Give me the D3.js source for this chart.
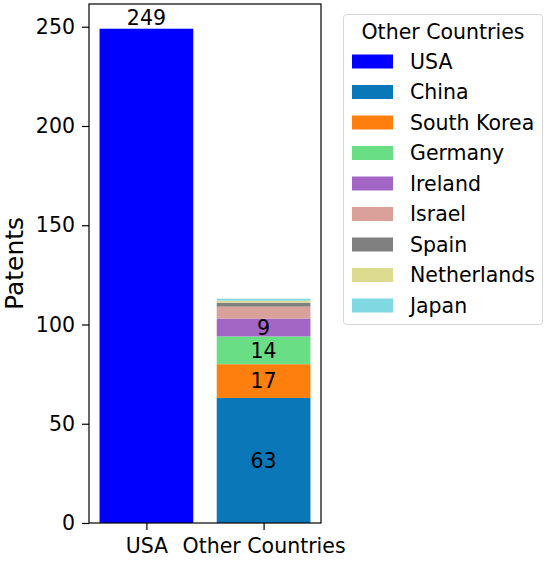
<!DOCTYPE html>
<html><head><meta charset="utf-8">
<script src="https://cdn.jsdelivr.net/npm/d3@7"></script>
<style>body{margin:0;background:#fff;}svg{display:block;font-family:"DejaVu Sans",sans-serif;}</style>
</head><body><svg id="c" width="550" height="562"></svg>
<script>
const categories = ["USA", "Other Countries"];
const usaValue = [249];
const countries = ["China","South Korea","Germany","Ireland","Israel","Spain","Netherlands","Japan"];
const countryValues = [63, 17, 14, 9, 6, 2, 1, 1];
const legendNames = ["USA","China","South Korea","Germany","Ireland","Israel","Spain","Netherlands","Japan"];
const legendColors = ["#0000ff","#0a77b8","#ff7f0e","#6ade85","#a466c4","#d9a19a","#808080","#dcdb8f","#80d9e2"];
const yTicks = [0, 50, 100, 150, 200, 250];

const svg = d3.select("#c");
const pL = 89, pR = 321, pT = 4, pB = 523;
const x = d3.scaleLinear().domain([-0.49, 1.49]).range([pL, pR]);
const y = d3.scaleLinear().domain([0, 261.45]).range([pB, pT]);
const bw = 0.8;
const fs = 20.5;

// USA bar
svg.append("rect").attr("x", x(0 - bw/2)).attr("width", x(bw) - x(0))
  .attr("y", y(usaValue[0])).attr("height", y(0) - y(usaValue[0])).attr("fill", legendColors[0]);
svg.append("text").attr("x", x(0)).attr("y", y(usaValue[0]) - 4).attr("text-anchor", "middle")
  .attr("font-size", fs).text(usaValue[0]);

// stacked
let cum = 0;
countries.forEach((c, i) => {
  const v = countryValues[i];
  const y0 = cum, y1 = cum + v;
  svg.append("rect").attr("x", x(1 - bw/2)).attr("width", x(bw) - x(0))
    .attr("y", y(y1)).attr("height", y(y0) - y(y1)).attr("fill", legendColors[i+1]);
  if (v >= 9) {
    svg.append("text").attr("x", x(1)).attr("y", y((y0 + y1)/2)).attr("dy", "0.36em")
      .attr("text-anchor", "middle").attr("font-size", fs).attr("fill", "#000").text(v);
  }
  cum = y1;
});

// axes
const yAxis = svg.append("g").attr("transform", `translate(${pL},0)`)
  .call(d3.axisLeft(y).tickValues(yTicks).tickSize(7).tickPadding(7));
yAxis.select(".domain").remove();
yAxis.selectAll("text").attr("font-size", fs).attr("font-family", "DejaVu Sans").attr("fill", "#000");
yAxis.selectAll("line").attr("stroke", "#000").attr("stroke-width", 1.2);

const xAxis = svg.append("g").attr("transform", `translate(0,${pB})`)
  .call(d3.axisBottom(x).tickValues([0, 1]).tickFormat((d) => categories[d]).tickSize(7).tickPadding(7));
xAxis.select(".domain").remove();
xAxis.selectAll("text").attr("font-size", fs).attr("font-family", "DejaVu Sans").attr("fill", "#000").attr("dy", "0.8em");
xAxis.selectAll("line").attr("stroke", "#000").attr("stroke-width", 1.2);

svg.append("rect").attr("x", pL).attr("y", pT).attr("width", pR - pL).attr("height", pB - pT)
  .attr("fill", "none").attr("stroke", "#000").attr("stroke-width", 1.2);

svg.append("text").attr("transform", `translate(23,${(pT+pB)/2}) rotate(-90)`)
  .attr("text-anchor", "middle").attr("font-size", 25).text("Patents");

// legend
const lg = svg.append("g");
lg.append("rect").attr("x", 343.5).attr("y", 14.5).attr("width", 199).attr("height", 310)
  .attr("rx", 3).attr("fill", "#fff").attr("stroke", "#d6d6d6").attr("stroke-width", 1);
lg.append("text").attr("x", 443).attr("y", 39).attr("text-anchor", "middle").attr("font-size", fs).text("Other Countries");
legendNames.forEach((n, i) => {
  const cy = 61.5 + i * 30.5;
  lg.append("rect").attr("x", 352).attr("y", cy - 7).attr("width", 41).attr("height", 14).attr("fill", legendColors[i]);
  lg.append("text").attr("x", 410).attr("y", cy).attr("dy", "0.36em").attr("font-size", fs).text(n);
});
</script></body></html>
